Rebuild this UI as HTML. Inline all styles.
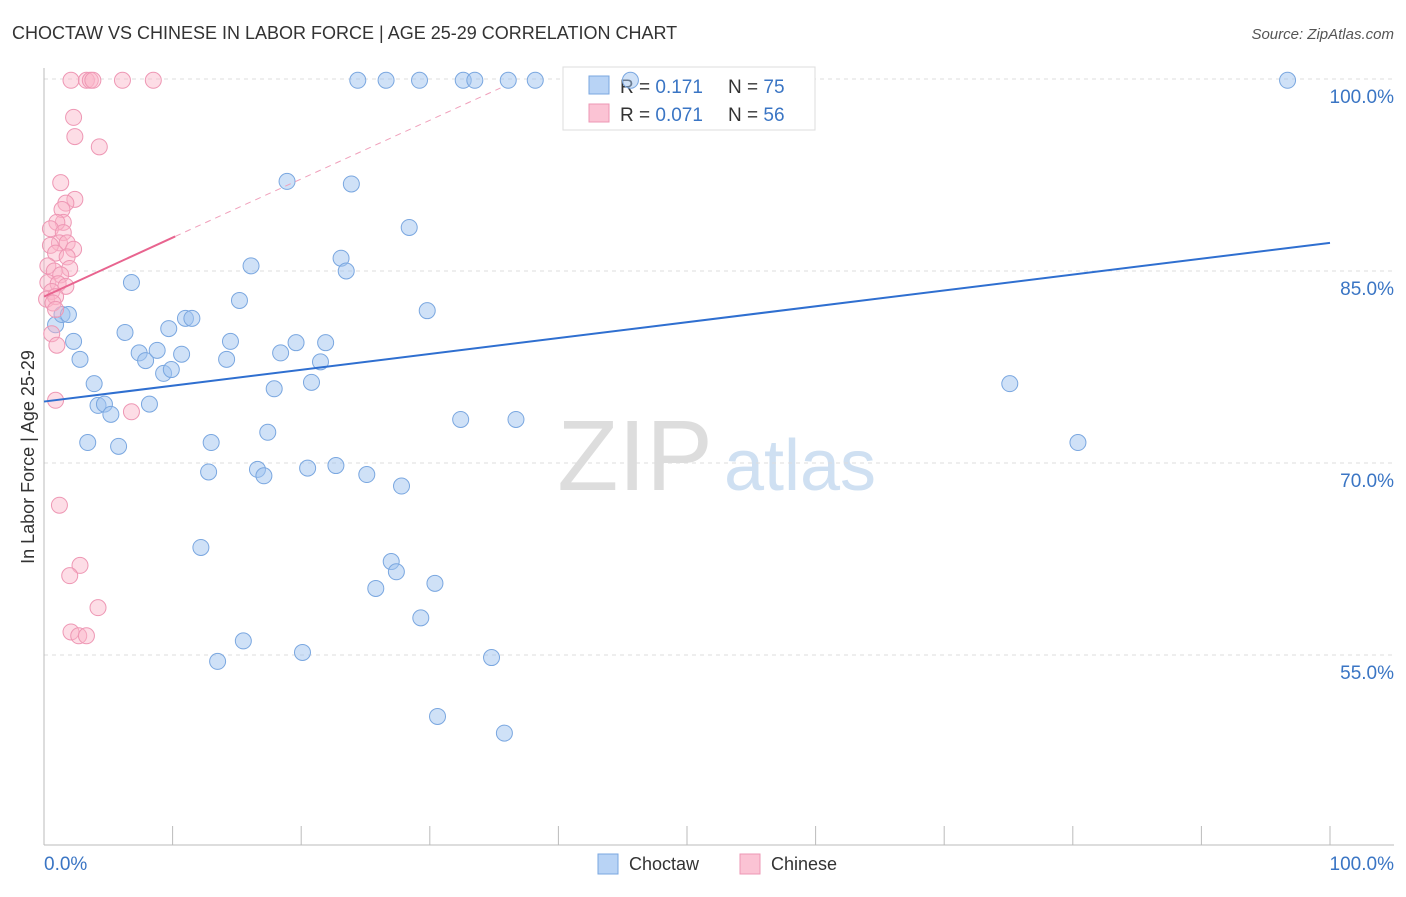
<!DOCTYPE html>
<html><head><meta charset="utf-8"><style>
body{margin:0;background:#fff;font-family:"Liberation Sans",sans-serif;}
svg text{font-family:"Liberation Sans",sans-serif;}
</style></head><body>
<svg id="chart" width="1406" height="892">
<text x="12" y="39" font-size="18" fill="#333">CHOCTAW VS CHINESE IN LABOR FORCE | AGE 25-29 CORRELATION CHART</text>
<text x="1394" y="39" font-size="15" fill="#555" font-style="italic" text-anchor="end">Source: ZipAtlas.com</text>
<text x="635" y="490" font-size="100" fill="#ddd" font-family="Liberation Serif" text-anchor="middle">ZIP</text>
<text x="800" y="490" font-size="72" fill="#cfe0f2" text-anchor="middle">atlas</text>
<g id="grid"></g><g id="axes"></g>
<g>
<rect x="563" y="67" width="252" height="63" fill="#fff" stroke="#ddd"/>
<rect x="589" y="76" width="20" height="18" fill="#b8d3f5" stroke="#7aa7e0"/>
<rect x="589" y="104" width="20" height="18" fill="#fbc3d4" stroke="#ee97b4"/>
<text x="620" y="93" font-size="19" fill="#333">R = <tspan fill="#3a75c4">0.171</tspan></text>
<text x="728" y="93" font-size="19" fill="#333">N = <tspan fill="#3a75c4">75</tspan></text>
<text x="620" y="121" font-size="19" fill="#333">R = <tspan fill="#3a75c4">0.071</tspan></text>
<text x="728" y="121" font-size="19" fill="#333">N = <tspan fill="#3a75c4">56</tspan></text>
</g>
<g id="marks"></g>
<text transform="translate(34,457) rotate(-90)" font-size="18" fill="#333" text-anchor="middle">In Labor Force | Age 25-29</text>
<text x="44" y="870" font-size="19" fill="#3a75c4">0.0%</text>
<text x="1394" y="870" font-size="19" fill="#3a75c4" text-anchor="end">100.0%</text>
<g>
<rect x="598" y="854" width="20" height="20" fill="#b8d3f5" stroke="#7aa7e0"/>
<text x="629" y="870" font-size="18" fill="#333">Choctaw</text>
<rect x="740" y="854" width="20" height="20" fill="#fbc3d4" stroke="#ee97b4"/>
<text x="771" y="870" font-size="18" fill="#333">Chinese</text>
</g>
</svg>
<script>
const yTicks=[100,85,70,55];
const yTickLabels=["100.0%","85.0%","70.0%","55.0%"];
const blueX=[24.4,26.6,29.2,32.6,33.5,36.1,38.2,45.6,96.7,18.9,23.9,28.4,23.1,23.5,16.1,6.8,15.2,29.8,0.9,1.4,1.9,11.0,11.5,9.7,6.3,14.5,19.6,21.9,2.3,2.8,7.4,7.9,8.8,10.7,14.2,18.4,21.5,9.3,9.9,20.8,17.9,3.9,75.1,4.2,4.7,5.2,8.2,32.4,36.7,17.4,3.4,5.8,13.0,80.4,12.8,16.6,17.1,20.5,22.7,25.1,27.8,12.2,27.0,27.4,30.4,25.8,29.3,15.5,13.5,20.1,34.8,30.6,35.8];
const blueY=[99.9,99.9,99.9,99.9,99.9,99.9,99.9,99.9,99.9,92.0,91.8,88.4,86.0,85.0,85.4,84.1,82.7,81.9,80.8,81.6,81.6,81.3,81.3,80.5,80.2,79.5,79.4,79.4,79.5,78.1,78.6,78.0,78.8,78.5,78.1,78.6,77.9,77.0,77.3,76.3,75.8,76.2,76.2,74.5,74.6,73.8,74.6,73.4,73.4,72.4,71.6,71.3,71.6,71.6,69.3,69.5,69.0,69.6,69.8,69.1,68.2,63.4,62.3,61.5,60.6,60.2,57.9,56.1,54.5,55.2,54.8,50.2,48.9];
const pinkX=[2.1,3.3,3.6,3.8,6.1,8.5,2.3,2.4,4.3,1.3,2.4,1.7,1.4,1.5,1.0,0.5,1.5,1.2,1.8,2.3,0.5,0.9,1.8,2.0,0.3,0.8,1.3,0.3,1.1,1.7,0.6,0.2,0.9,0.7,0.9,0.6,1.0,0.9,6.8,1.2,2.8,2.0,4.2,2.1,2.7,3.3];
const pinkY=[99.9,99.9,99.9,99.9,99.9,99.9,97.0,95.5,94.7,91.9,90.6,90.3,89.8,88.8,88.8,88.3,88.0,87.2,87.2,86.7,87.0,86.4,86.1,85.2,85.4,85.0,84.7,84.1,84.0,83.8,83.4,82.8,83.0,82.5,82.0,80.1,79.2,74.9,74.0,66.7,62.0,61.2,58.7,56.8,56.5,56.5];
const blueTrend=[74.8,87.2];
const pinkTrend=[83.0,87.7,99.3];
const pinkTrendX=[0,10.2,35.5];
const NS="http://www.w3.org/2000/svg";
const xs=v=>44+v*12.86, ys=v=>79+(100-v)*12.8;
function mk(tag,attrs,parent){const e=document.createElementNS(NS,tag);for(const k in attrs)e.setAttribute(k,attrs[k]);document.getElementById(parent).appendChild(e);return e;}
yTicks.forEach((t,i)=>{
 const g=mk('line',{x1:44,x2:1394,y1:ys(t),y2:ys(t),stroke:'#ddd','stroke-dasharray':'4,4'},'grid');
 
 
 const l=mk('text',{x:1394,y:ys(t)+24,'font-size':19,fill:'#3a75c4','text-anchor':'end'},'grid');
 l.textContent=yTickLabels[i];
 
 
});
const ax=mk('line',{x1:44,x2:44,y1:68,y2:845,stroke:'#bbb'},'axes');


const bx=mk('line',{x1:44,x2:1394,y1:845,y2:845,stroke:'#bbb'},'axes');


for(let i=0;i<=10;i++){const t=mk('line',{x1:xs(i*10),x2:xs(i*10),y1:826,y2:845,stroke:'#bbb'},'axes');
 
 }
blueX.forEach((x,i)=>{const c=mk('circle',{cx:xs(x),cy:ys(blueY[i]),r:8,fill:'rgba(160,195,240,0.5)',stroke:'#7aa7e0','stroke-width':1},'marks');
 
 });
pinkX.forEach((x,i)=>{const c=mk('circle',{cx:xs(x),cy:ys(pinkY[i]),r:8,fill:'rgba(250,180,200,0.45)',stroke:'#ee97b4','stroke-width':1},'marks');
 
 });
const bt=mk('line',{x1:xs(0),y1:ys(blueTrend[0]),x2:xs(100),y2:ys(blueTrend[1]),stroke:'#2f6fd0','stroke-width':2},'marks');


const pd=mk('line',{x1:xs(pinkTrendX[1]),y1:ys(pinkTrend[1]),x2:xs(pinkTrendX[2]),y2:ys(pinkTrend[2]),stroke:'#f0a0bb','stroke-width':1,'stroke-dasharray':'6,5'},'marks');


const pt=mk('line',{x1:xs(pinkTrendX[0]),y1:ys(pinkTrend[0]),x2:xs(pinkTrendX[1]),y2:ys(pinkTrend[1]),stroke:'#e8648f','stroke-width':2},'marks');


</script>
</body></html>
